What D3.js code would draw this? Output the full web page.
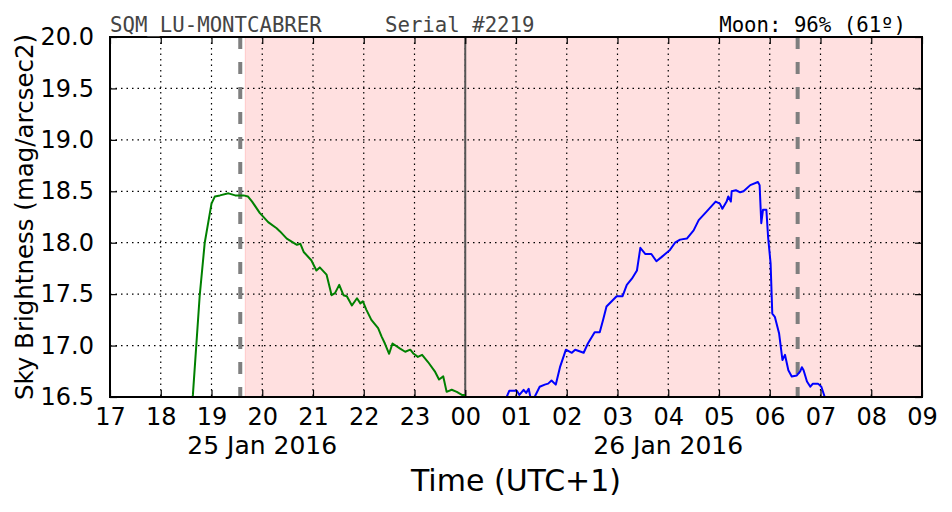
<!DOCTYPE html>
<html>
<head>
<meta charset="utf-8">
<script src="https://cdn.jsdelivr.net/npm/d3@7"></script>
<style>
  html, body { margin: 0; padding: 0; background: #fff; }
  svg { display: block; }
</style>
</head>
<body>
<svg id="chart" width="952" height="512"></svg>
<script>
// ---------- data ----------
const stationName = "SQM_LU-MONTCABRER";
const serialText = "Serial #2219";
const moonText = "Moon: 96% (61º)";
const xLabel = "Time (UTC+1)";
const yLabel = "Sky Brightness (mag/arcsec2)";
const dateLabels = ["25 Jan 2016", "26 Jan 2016"];
const dateLabelTimes = ["2016-01-25T20:00", "2016-01-26T04:00"];
const yTicks = [16.5, 17.0, 17.5, 18.0, 18.5, 19.0, 19.5, 20.0];
const xDomain = ["2016-01-25T17:00", "2016-01-26T09:00"];
const yDomain = [16.5, 20.0];
const twilightTimes = ["2016-01-25T19:34", "2016-01-26T06:33"];
const moonShadeStart = "2016-01-25T19:40";
const midnight = "2016-01-26T00:00";

const greenTimes = ["18:33","18:38","18:46","18:52","19:00","19:04","19:10","19:20","19:28","19:38","19:43","19:48","19:57",
  "20:07","20:17","20:21","20:29","20:41","20:45","20:49","20:58","21:04","21:08","21:16","21:22","21:26","21:31","21:36",
  "21:40","21:46","21:52","21:56","21:59","22:03","22:09","22:17","22:21","22:25","22:30","22:34","22:43","22:49","22:55",
  "22:59","23:04","23:09","23:16","23:24","23:29","23:34","23:38","23:44","23:50","23:56","00:00"];
const greenValues = [16.20,16.52,17.48,18.00,18.38,18.45,18.46,18.48,18.46,18.46,18.45,18.40,18.29,
  18.20,18.14,18.11,18.04,17.98,17.99,17.91,17.83,17.73,17.76,17.69,17.49,17.51,17.59,17.49,
  17.48,17.39,17.46,17.41,17.43,17.35,17.25,17.17,17.09,17.02,16.92,17.02,16.97,16.94,16.96,
  16.92,16.89,16.91,16.84,16.75,16.67,16.70,16.55,16.57,16.55,16.52,16.52];

const blueTimes = ["00:00","00:04","00:30","00:46","00:49","00:52","01:01","01:04","01:09","01:12","01:15","01:17","01:22",
  "01:28","01:34","01:38","01:42","01:47","01:52","01:59","02:06","02:10","02:20","02:25","02:33","02:39","02:43","02:47",
  "02:59","03:06","03:11","03:17","03:23","03:27","03:33","03:40","03:46","03:52","04:02","04:08","04:14","04:22","04:30",
  "04:36","04:45","04:56","05:01","05:04","05:09","05:11","05:14","05:15","05:20","05:25","05:29","05:37","05:46","05:48",
  "05:50","05:52","05:56","05:58","06:01","06:03","06:06","06:11","06:15","06:18","06:22","06:26","06:32","06:36","06:38",
  "06:40","06:44","06:48","06:51","06:57","07:01","07:05","07:10"];
const blueValues = [16.50,16.40,16.35,16.40,16.50,16.56,16.56,16.52,16.57,16.54,16.58,16.50,16.50,
  16.60,16.62,16.63,16.66,16.62,16.79,16.96,16.93,16.96,16.93,17.02,17.13,17.13,17.25,17.38,
  17.48,17.48,17.59,17.65,17.73,17.95,17.89,17.89,17.82,17.86,17.93,18.00,18.03,18.04,18.12,
  18.22,18.30,18.40,18.38,18.33,18.40,18.45,18.40,18.50,18.51,18.49,18.50,18.56,18.59,18.56,
  18.19,18.32,18.32,18.06,17.80,17.31,17.28,17.12,16.86,16.91,16.76,16.70,16.71,16.75,16.79,
  16.76,16.65,16.60,16.63,16.63,16.60,16.50,16.30];

// ---------- helpers ----------
const parseISO = d3.timeParse("%Y-%m-%dT%H:%M");
function parseNight(hm) {
  const h = +hm.slice(0, 2);
  return parseISO((h < 12 ? "2016-01-26T" : "2016-01-25T") + hm);
}

// ---------- layout ----------
const margin = { left: 110, right: 30, top: 37, bottom: 115 };
const W = 952, H = 512;
const x0 = margin.left, x1 = W - margin.right;   // 110 .. 922
const y0 = margin.top, y1 = H - margin.bottom;   // 37 .. 397
const sans = '"DejaVu Sans", sans-serif';
const mono = '"DejaVu Sans Mono", monospace';

const svg = d3.select("#chart");
const x = d3.scaleTime().domain(xDomain.map(parseISO)).range([x0, x1]);
const y = d3.scaleLinear().domain(yDomain).range([y1, y0]);

svg.append("defs").append("clipPath").attr("id", "plotclip")
  .append("rect").attr("x", x0).attr("y", y0).attr("width", x1 - x0).attr("height", y1 - y0);

const plot = svg.append("g").attr("clip-path", "url(#plotclip)");

// shaded region (moon)
plot.append("rect")
  .attr("x", x(parseISO(moonShadeStart)))
  .attr("y", y0)
  .attr("width", x1 - x(parseISO(moonShadeStart)))
  .attr("height", y1 - y0)
  .attr("fill", "#ffe0e0")
  .attr("stroke", "#ffc8c8")
  .attr("stroke-width", 1);

// grid
const hourTicks = d3.timeHour.every(1).range(parseISO(xDomain[0]), d3.timeMinute.offset(parseISO(xDomain[1]), 1));
plot.append("g").selectAll("line").data(hourTicks).join("line")
  .attr("x1", d => x(d)).attr("x2", d => x(d))
  .attr("y1", y0).attr("y2", y1)
  .attr("stroke", "#000").attr("stroke-width", 1.2)
  .attr("stroke-dasharray", "1.5,4");
plot.append("g").selectAll("line").data(yTicks).join("line")
  .attr("x1", x0).attr("x2", x1)
  .attr("y1", d => y(d)).attr("y2", d => y(d))
  .attr("stroke", "#000").attr("stroke-width", 1.2)
  .attr("stroke-dasharray", "1.5,4");

// midnight line
plot.append("line")
  .attr("x1", x(parseISO(midnight))).attr("x2", x(parseISO(midnight)))
  .attr("y1", y0).attr("y2", y1)
  .attr("stroke", "#555").attr("stroke-width", 2);

// twilight dashed lines
plot.append("g").selectAll("line").data(twilightTimes.map(parseISO)).join("line")
  .attr("x1", d => x(d)).attr("x2", d => x(d))
  .attr("y1", y0).attr("y2", y1)
  .attr("stroke", "#7f7f7f").attr("stroke-width", 4)
  .attr("stroke-dasharray", "12,13");

// data lines
const line = d3.line().x(d => x(d[0])).y(d => y(d[1]));
const greenData = greenTimes.map((t, i) => [parseNight(t), greenValues[i]]);
const blueData = blueTimes.map((t, i) => [parseNight(t), blueValues[i]]);
plot.append("path").datum(greenData).attr("d", line)
  .attr("fill", "none").attr("stroke", "#008000").attr("stroke-width", 2)
  .attr("stroke-linejoin", "round");
plot.append("path").datum(blueData).attr("d", line)
  .attr("fill", "none").attr("stroke", "#0000ff").attr("stroke-width", 2)
  .attr("stroke-linejoin", "round");

// axes (ticks inside, on all four sides)
const tickLen = 7;
const xAxisB = d3.axisBottom(x).ticks(d3.timeHour.every(1)).tickFormat(d3.timeFormat("%H"))
  .tickSizeInner(-tickLen).tickSizeOuter(0).tickPadding(11);
const gxb = svg.append("g").attr("transform", `translate(0,${y1})`).call(xAxisB);
const xAxisT = d3.axisTop(x).ticks(d3.timeHour.every(1)).tickFormat("").tickSizeInner(-tickLen).tickSizeOuter(0);
const gxt = svg.append("g").attr("transform", `translate(0,${y0})`).call(xAxisT);
const yAxisL = d3.axisLeft(y).tickValues(yTicks).tickFormat(d3.format(".1f"))
  .tickSizeInner(-tickLen).tickSizeOuter(0).tickPadding(16);
const gyl = svg.append("g").attr("transform", `translate(${x0},0)`).call(yAxisL);
const yAxisR = d3.axisRight(y).tickValues(yTicks).tickFormat("").tickSizeInner(-tickLen).tickSizeOuter(0);
const gyr = svg.append("g").attr("transform", `translate(${x1},0)`).call(yAxisR);

[gxb, gxt, gyl, gyr].forEach(g => {
  g.select(".domain").remove();
  g.selectAll(".tick line").attr("stroke", "#000").attr("stroke-width", 1.2);
});
gxb.selectAll(".tick text").style("font-size", "24px").style("font-family", sans).attr("fill", "#000");
gyl.selectAll(".tick text").style("font-size", "24px").style("font-family", sans).attr("fill", "#000");

// frame
svg.append("rect").attr("x", x0).attr("y", y0).attr("width", x1 - x0).attr("height", y1 - y0)
  .attr("fill", "none").attr("stroke", "#000").attr("stroke-width", 2);

// date labels
svg.append("g").selectAll("text").data(dateLabels).join("text")
  .attr("x", (d, i) => x(parseISO(dateLabelTimes[i])))
  .attr("y", 454)
  .attr("text-anchor", "middle")
  .style("font-family", sans).style("font-size", "25px")
  .text(d => d);

// axis titles
svg.append("text").attr("x", (x0 + x1) / 2).attr("y", 491)
  .attr("text-anchor", "middle").style("font-family", sans).style("font-size", "30px").text(xLabel);
svg.append("text")
  .attr("transform", `translate(33,${(y0 + y1) / 2}) rotate(-90)`)
  .attr("text-anchor", "middle").style("font-family", sans).style("font-size", "24.5px").text(yLabel);

// header texts (drawn last so the underscore stays visible)
svg.append("text").attr("x", 110).attr("y", 31.5).style("font-family", mono)
  .style("font-size", "20.7px").attr("fill", "#444").text(stationName);
svg.append("text").attr("x", 385).attr("y", 31.5).style("font-family", mono)
  .style("font-size", "20.7px").attr("fill", "#444").text(serialText);
svg.append("text").attr("x", 906).attr("y", 31.5).style("font-family", mono)
  .attr("text-anchor", "end").style("font-size", "20.7px").attr("fill", "#000").text(moonText);
</script>
</body>
</html>
